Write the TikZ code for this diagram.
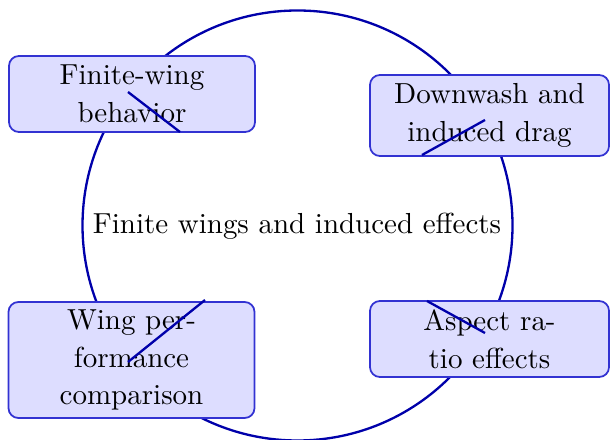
\documentclass[tikz,border=0pt]{standalone}
\begin{document}
\definecolor{ringblue}{RGB}{0,0,170}
\definecolor{boxedge}{RGB}{50,50,210}
\definecolor{boxfill}{RGB}{221,221,255}
\begin{tikzpicture}[x=0.345pt,y=-0.345pt,
  topicbox/.style={draw=boxedge,fill=boxfill,rounded corners=3.4pt,align=center,inner sep=0pt,line width=0.6pt},
  ring/.style={draw=ringblue,line width=0.8pt},
  stray/.style={draw=ringblue,line width=0.8pt}]
\useasboundingbox (0,0) rectangle (610,440);
\node[circle,ring,minimum size=430*0.345pt,inner sep=0pt] (c) at (297.5,225.5) {};
\node (centre) at (297,226) {Finite wings and induced effects};
\node[topicbox,minimum width=246*0.345pt,minimum height=76*0.345pt] (b1) at (132,94) {Finite-wing\\[1pt]behavior};
\node[topicbox,minimum width=239*0.345pt,minimum height=81*0.345pt] (b2) at (489.5,115.5) {Downwash and\\[1pt]induced drag};
\node[topicbox,minimum width=246*0.345pt,minimum height=116*0.345pt] (b3) at (131.5,360) {Wing per-\\[1pt]formance\\[1pt]comparison};
\node[topicbox,minimum width=239*0.345pt,minimum height=76*0.345pt] (b4) at (489.5,339) {Aspect ra-\\[1pt]tio effects};
\coordinate (s1a) at (128,92); \coordinate (s1b) at (180,132);
\coordinate (s2a) at (422,155); \coordinate (s2b) at (485,120);
\coordinate (s3a) at (128,362); \coordinate (s3b) at (205,300);
\coordinate (s4a) at (427,301); \coordinate (s4b) at (485,333);
\draw[stray] (s1a) -- (s1b);
\draw[stray] (s2a) -- (s2b);
\draw[stray] (s3a) -- (s3b);
\draw[stray] (s4a) -- (s4b);
\end{tikzpicture}
\end{document}
